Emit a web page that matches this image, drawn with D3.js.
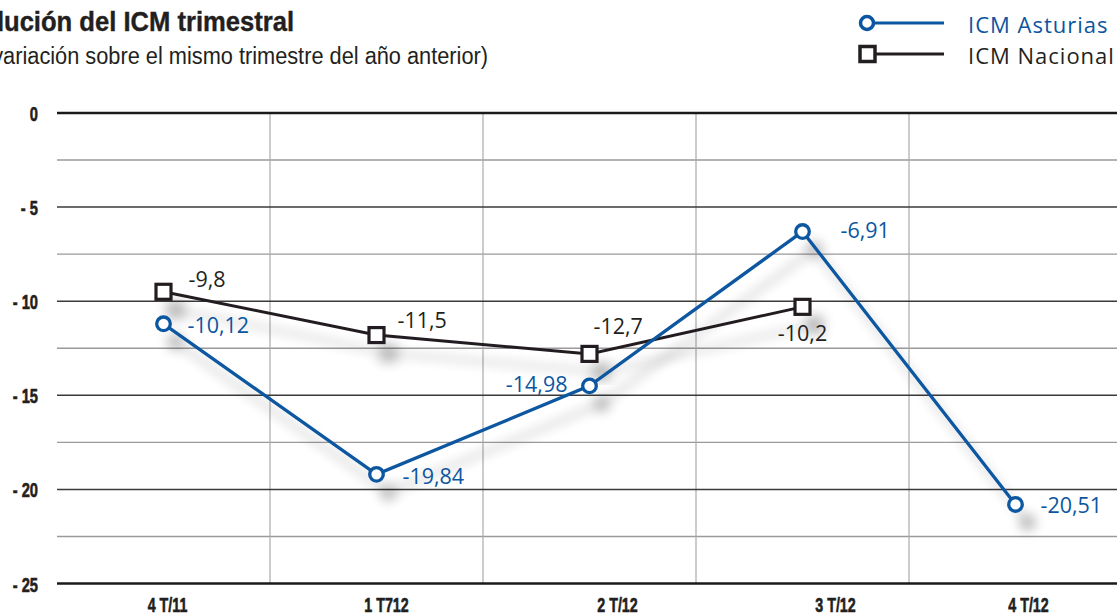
<!DOCTYPE html>
<html>
<head>
<meta charset="utf-8">
<script src="https://cdn.jsdelivr.net/npm/d3@7"></script>
<style>
  html, body { margin: 0; padding: 0; background: #fff; overflow: hidden; }
  svg { display: block; }
</style>
</head>
<body>
<svg id="chart" width="1117" height="615"></svg>
<script>
// ---- data ----
const categories = ["4 T/11", "1 T712", "2 T/12", "3 T/12", "4 T/12"];
const asturiasValues = [-11.2, -19.2, -14.5, -6.3, -20.8];           // plotted positions
const asturiasLabels = ["-10,12", "-19,84", "-14,98", "-6,91", "-20,51"];
const nacionalValues = [-9.5, -11.8, -12.8, -10.3];
const nacionalLabels = ["-9,8", "-11,5", "-12,7", "-10,2"];
const yTickValues = [0, -5, -10, -15, -20, -25];
const yTickLabels = ["0", "- 5", "- 10", "- 15", "- 20", "- 25"];
const yMinorValues = [-2.5, -7.5, -12.5, -17.5, -22.5];
const seriesNames = ["ICM Asturias", "ICM Nacional"];
const titleText = "Evolución del ICM trimestral";
const subtitleText = "(variación sobre el mismo trimestre del año anterior)";

// ---- styles ----
const BLUE = "#0b56a0";
const DARK = "#231f20";
const boldFont = "'Liberation Sans', Arial, sans-serif";
const labelFont = "'Open Sans', 'Noto Sans', sans-serif";
const xLabelNudge = [4, 10, 28, 33, 13];

const svg = d3.select("#chart");
const pLeft = 57, pRight = 1122, pTop = 113, pBottom = 583.5;

const x = d3.scaleBand().domain(categories).range([pLeft, pRight]).padding(0);
const y = d3.scaleLinear().domain([0, -25]).range([pTop, pBottom]);
const cx = c => x(c) + x.bandwidth() / 2;

// drop shadow filter
const defs = svg.append("defs");
const f = defs.append("filter").attr("id", "shadow")
  .attr("x", "-10%").attr("y", "-10%").attr("width", "130%").attr("height", "140%");
f.append("feGaussianBlur").attr("in", "SourceAlpha").attr("stdDeviation", 6).attr("result", "b");
f.append("feOffset").attr("in", "b").attr("dx", 12).attr("dy", 18).attr("result", "o");
f.append("feComponentTransfer").attr("in", "o").attr("result", "s")
  .append("feFuncA").attr("type", "linear").attr("slope", 0.27);
const fm = f.append("feMerge");
fm.append("feMergeNode").attr("in", "s");
fm.append("feMergeNode").attr("in", "SourceGraphic");

// ---- title ----
svg.append("text").attr("x", 294).attr("y", 31).attr("text-anchor", "end")
  .attr("font-family", boldFont).attr("font-weight", "bold")
  .attr("font-size", 28).attr("fill", "#231f20").attr("stroke", "#231f20").attr("stroke-width", 0.4)
  .attr("textLength", 344).attr("lengthAdjust", "spacingAndGlyphs").text(titleText);
svg.append("text").attr("x", 488).attr("y", 64).attr("text-anchor", "end")
  .attr("font-family", boldFont).attr("font-size", 23).attr("fill", "#231f20")
  .attr("textLength", 503).attr("lengthAdjust", "spacingAndGlyphs").text(subtitleText);

// ---- legend ----
const legend = svg.append("g");
const legendRows = [
  { name: seriesNames[0], color: BLUE, y: 23, shape: "circle" },
  { name: seriesNames[1], color: DARK, y: 54, shape: "square" }
];
legendRows.forEach(r => {
  legend.append("line").attr("x1", 866).attr("x2", 944).attr("y1", r.y).attr("y2", r.y)
    .attr("stroke", r.color).attr("stroke-width", 3.2);
  if (r.shape === "circle") {
    legend.append("circle").attr("cx", 867).attr("cy", r.y).attr("r", 6.5)
      .attr("fill", "#fff").attr("stroke", r.color).attr("stroke-width", 3.5);
  } else {
    legend.append("rect").attr("x", 860).attr("y", r.y - 7.5).attr("width", 15).attr("height", 15)
      .attr("fill", "#fff").attr("stroke", r.color).attr("stroke-width", 3.5);
  }
  legend.append("text").attr("x", 968).attr("y", r.y + 10)
    .attr("font-family", labelFont).attr("font-size", 22).attr("letter-spacing", 1)
    .attr("fill", r.color).text(r.name);
});

// ---- grid ----
const grid = svg.append("g");
grid.selectAll("line.minor").data(yMinorValues).enter().append("line")
  .attr("x1", pLeft).attr("x2", 1117).attr("y1", d => y(d)).attr("y2", d => y(d))
  .attr("stroke", "#9a9a9a").attr("stroke-width", 1.4);
grid.selectAll("line.vert").data(categories.slice(0, -1)).enter().append("line")
  .attr("x1", d => x(d) + x.bandwidth()).attr("x2", d => x(d) + x.bandwidth())
  .attr("y1", pTop).attr("y2", pBottom)
  .attr("stroke", "#aaaaaa").attr("stroke-width", 1.2);
grid.selectAll("line.major").data(yTickValues).enter().append("line")
  .attr("x1", pLeft).attr("x2", 1117).attr("y1", d => y(d)).attr("y2", d => y(d))
  .attr("stroke", d => (d === 0 || d === -25) ? "#1a1a1a" : "#3a3a3a")
  .attr("stroke-width", d => (d === 0 || d === -25) ? 2.6 : 1.5);

// ---- y axis ----
const yAxis = d3.axisLeft(y).tickValues(yTickValues).tickSize(0).tickPadding(0)
  .tickFormat((d, i) => yTickLabels[i]);
const ya = svg.append("g").attr("transform", `translate(38,0)`).call(yAxis);
ya.select(".domain").remove();
ya.selectAll("text").attr("font-family", boldFont).attr("font-weight", "bold")
  .attr("font-size", 21).attr("fill", "#231f20").attr("dy", "0.36em")
  .attr("stroke", "#231f20").attr("stroke-width", 0.6)
  .attr("transform", "scale(0.7,1)");

// ---- x axis ----
const xAxis = d3.axisBottom(x).tickSize(0).tickPadding(0);
const xa = svg.append("g").attr("transform", `translate(0,597)`).call(xAxis);
xa.select(".domain").remove();
xa.selectAll(".tick").each(function (d, i) {
  d3.select(this).select("text")
    .attr("x", xLabelNudge[i] / 0.68)
    .attr("transform", "scale(0.68,1)");
});
xa.selectAll("text").attr("font-family", boldFont).attr("font-weight", "bold")
  .attr("font-size", 21).attr("fill", "#231f20").attr("dy", "0.7em")
  .attr("stroke", "#231f20").attr("stroke-width", 0.6);

// ---- series ----
const line = d3.line().x(d => cx(d.c)).y(d => y(d.v));
const ast = categories.map((c, i) => ({ c, v: asturiasValues[i], label: asturiasLabels[i] }));
const nac = nacionalValues.map((v, i) => ({ c: categories[i], v, label: nacionalLabels[i] }));

// Nacional
const gN = svg.append("g").attr("filter", "url(#shadow)");
gN.append("path").datum(nac).attr("d", line).attr("fill", "none")
  .attr("stroke", DARK).attr("stroke-width", 3);
gN.selectAll("rect").data(nac).enter().append("rect")
  .attr("x", d => cx(d.c) - 7.5).attr("y", d => y(d.v) - 7.5)
  .attr("width", 15).attr("height", 15)
  .attr("fill", "#fff").attr("stroke", DARK).attr("stroke-width", 3.2);

// Asturias
const gA = svg.append("g").attr("filter", "url(#shadow)");
gA.append("path").datum(ast).attr("d", line).attr("fill", "none")
  .attr("stroke", BLUE).attr("stroke-width", 3.3);
gA.selectAll("circle").data(ast).enter().append("circle")
  .attr("cx", d => cx(d.c)).attr("cy", d => y(d.v)).attr("r", 6.8)
  .attr("fill", "#fff").attr("stroke", BLUE).attr("stroke-width", 3.3);

// ---- value labels ----
const astOffsets = [[24, 9, "start"], [26, 10, "start"], [-22, 6, "end"], [38, 6, "start"], [25, 9, "start"]];
const nacOffsets = [[25, -5, "start"], [21, -7, "start"], [4, -20, "start"], [0, 34, "middle"]];
svg.append("g").selectAll("text").data(ast).enter().append("text")
  .attr("x", (d, i) => cx(d.c) + astOffsets[i][0]).attr("y", (d, i) => y(d.v) + astOffsets[i][1])
  .attr("text-anchor", (d, i) => astOffsets[i][2])
  .attr("font-family", labelFont).attr("font-size", 21.5).attr("fill", BLUE).text(d => d.label);
svg.append("g").selectAll("text").data(nac).enter().append("text")
  .attr("x", (d, i) => cx(d.c) + nacOffsets[i][0]).attr("y", (d, i) => y(d.v) + nacOffsets[i][1])
  .attr("text-anchor", (d, i) => nacOffsets[i][2])
  .attr("font-family", labelFont).attr("font-size", 21.5).attr("fill", DARK).text(d => d.label);
</script>
</body>
</html>
